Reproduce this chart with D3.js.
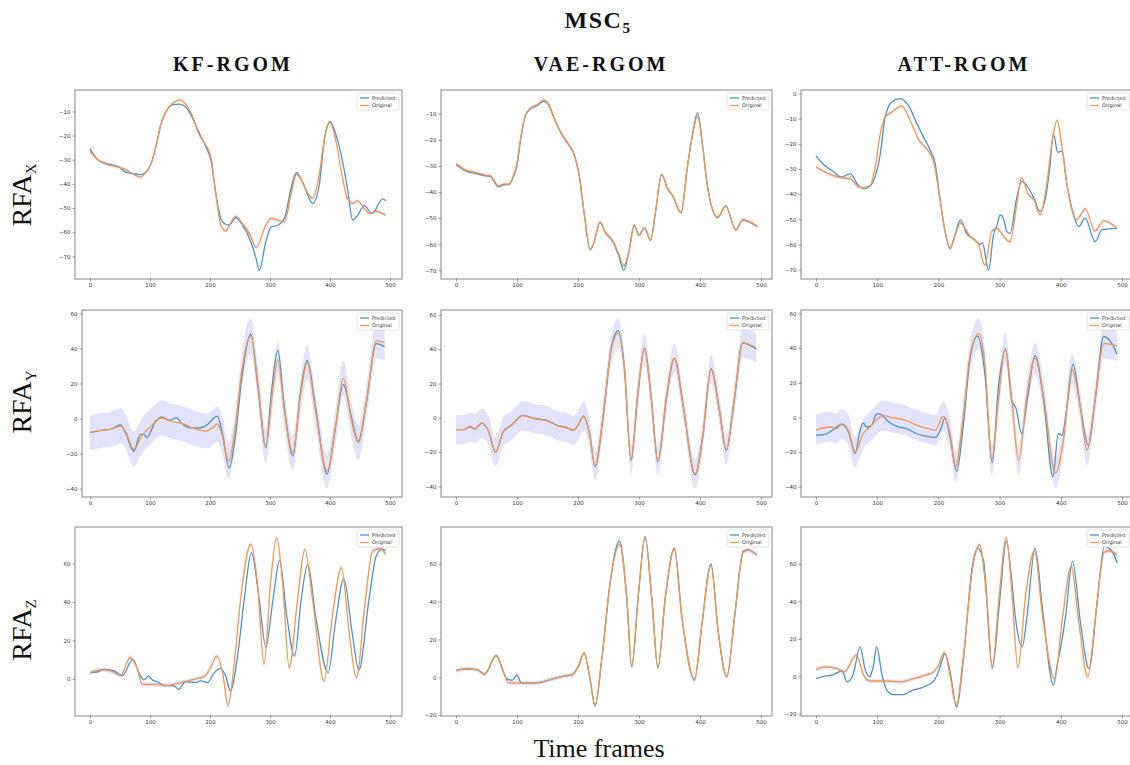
<!DOCTYPE html>
<head>
<meta charset="utf-8">
<title>MSC5 - RFA predictions</title>
<style>
  body { margin: 0; background: #fff; }
  svg { display: block; }
  .tick text { font: 5.5px "DejaVu Sans", sans-serif; fill: #333; }
  .tick line { stroke: #555; stroke-width: 0.6; }
  .domain { display: none; }
  .frame { fill: none; stroke: #a3a3a3; stroke-width: 1.3; }
  .pred { fill: none; stroke: #4b91cc; stroke-width: 1.3; }
  .orig { fill: none; stroke: #f6964a; stroke-width: 1.3; }
  .band { fill: #e2e2fb; }
  .legend text { font: 5px "DejaVu Sans", sans-serif; fill: #333; }
  .serif { font-family: "Liberation Serif", "DejaVu Serif", serif; fill: #111; }
</style>
</head>
<body>
<script src="https://d3js.org/d3.v7.min.js"></script>
<script>

var methods = ["KF-RGOM", "VAE-RGOM", "ATT-RGOM"];
var axesNames = ["X", "Y", "Z"];
var xTicks = [0, 100, 200, 300, 400, 500];
var yTickStep = [10, 20, 20];
// half width of the shaded band round the original signal, per row / method
var bandHalf = [[0.6, 0.6, 0.6], [10, 8.5, 8.7], [1.1, 1.1, 1.1]];

var kfX_pred = [[0,-25.5],[13,-30],[27,-31.5],[49,-33.1],[60,-35.2],[77,-35.9],[85,-36.2],[93,-35.2],[102,-31.5],[110,-24.5],[118,-15.5],[127,-10],[138,-7.2],[149,-7],[160,-8.3],[171,-12.8],[182,-19],[193,-24.5],[202,-30.8],[210,-44.6],[218,-54.3],[224,-56.4],[232,-57.1],[243,-54],[254,-57],[266,-62.7],[277,-71],[282,-75.8],[293,-64],[302,-57.8],[313,-57.1],[324,-54.3],[335,-41.9],[344,-35.2],[354,-39.1],[363,-44.6],[371,-48.1],[382,-40.5],[391,-21],[400,-14.2],[410,-19.7],[421,-30.8],[429,-41.9],[438,-55],[446,-53],[457,-49],[470,-52.2],[488,-46.2],[493,-47]];
var kfX_orig = [[0,-26.6],[13,-30],[27,-31.8],[49,-33.1],[60,-34.2],[77,-36.6],[83,-37.2],[93,-35.2],[102,-31.5],[110,-24.5],[118,-15.5],[127,-10],[138,-6.5],[150,-5.3],[160,-7.2],[171,-12.1],[182,-19.7],[193,-23.9],[202,-29.4],[210,-44.6],[218,-57.1],[226,-59.5],[232,-57.1],[243,-53.4],[254,-56.4],[266,-60.6],[277,-66.3],[293,-57.1],[302,-54.3],[313,-55],[324,-55.7],[335,-44.6],[344,-36],[354,-39.1],[363,-43.9],[371,-46],[382,-36.3],[391,-21],[400,-14.4],[410,-22.5],[421,-37.7],[429,-46],[438,-48.1],[446,-47],[457,-50.2],[466,-52.3],[477,-51.3],[488,-52.3],[493,-53]];

var vaeX_pred = [[0,-29.5],[15,-31.8],[32,-32.8],[48,-33.8],[56,-33.9],[62,-35.8],[70,-38],[78,-37.2],[87,-37.1],[92,-35.3],[100,-29.8],[106,-20],[114,-10.6],[122,-8.2],[133,-6.9],[144,-5.3],[152,-6.7],[163,-13],[174,-18.2],[185,-22],[193,-25.3],[202,-33.8],[210,-48],[220,-62],[226,-59.5],[236,-51.6],[245,-55.6],[256,-58.6],[267,-64.5],[275,-70],[284,-62.3],[292,-52.7],[300,-56.6],[309,-53.6],[319,-58.5],[327,-47.8],[337,-33.3],[347,-38.8],[355,-41.4],[369,-48],[379,-30.8],[388,-17.5],[396,-9.6],[404,-21.6],[412,-37.5],[429,-49.8],[442,-45.3],[459,-54.6],[470,-50.7],[494,-53.3]];
var vaeX_orig = [[0,-29.2],[15,-31.5],[32,-32.5],[48,-33.5],[56,-33.7],[62,-35.4],[70,-37.7],[78,-37],[87,-37],[92,-34.8],[100,-29],[106,-19.3],[114,-10.3],[122,-8],[133,-6.6],[144,-4.8],[152,-6.4],[163,-12.8],[174,-18],[185,-21.9],[193,-25.1],[202,-33.5],[210,-47.7],[220,-62],[226,-59.3],[236,-51.5],[245,-55.4],[256,-58.3],[267,-63.8],[275,-68.3],[284,-61.9],[292,-52.6],[300,-56.5],[309,-53.5],[319,-58.3],[327,-47.7],[337,-33.2],[347,-38.6],[355,-41.2],[369,-47.9],[379,-30.9],[388,-18],[396,-10.9],[404,-21.9],[412,-37.4],[429,-49.6],[442,-45.4],[459,-54.4],[470,-50.6],[494,-53.1]];

var attX_pred = [[0,-24.8],[12,-28.1],[28,-31],[42,-33.2],[56,-31.8],[68,-36.1],[77,-37.8],[88,-36.8],[97,-32.8],[105,-24.1],[113,-9.4],[124,-3.3],[137,-2],[151,-4.7],[165,-12],[176,-17.4],[186,-22.1],[195,-28.1],[203,-42.8],[211,-54.9],[219,-61.6],[227,-56.2],[236,-50.2],[246,-55.6],[260,-58.2],[267,-60],[272,-59.4],[282,-70.3],[290,-56.2],[296,-52.2],[301,-48.2],[306,-49.5],[312,-54.9],[317,-55.6],[328,-41.5],[336,-34.8],[345,-36.8],[356,-41.5],[366,-46.9],[375,-41.5],[382,-29.5],[388,-16],[395,-23.4],[402,-22.8],[410,-36.1],[421,-48.2],[429,-52.9],[440,-49.5],[456,-58.9],[467,-54.2],[480,-53.8],[492,-53.5]];
var attX_orig = [[0,-29.2],[17,-31.5],[42,-33.5],[56,-33.9],[68,-36.8],[77,-37.5],[88,-36.8],[97,-28.8],[105,-16.1],[113,-9.4],[124,-7.4],[140,-5],[154,-10.7],[167,-18.1],[181,-22.1],[192,-26.8],[203,-42.8],[211,-54.9],[219,-61.6],[227,-56.6],[236,-51.5],[252,-56.9],[265,-59.6],[276,-68.3],[287,-54.9],[296,-53.5],[301,-54.9],[317,-58.9],[328,-44.2],[336,-33.5],[347,-40.2],[356,-42.2],[366,-48.2],[377,-36.1],[386,-18.7],[394,-10.7],[402,-21.4],[410,-36.1],[426,-50.2],[440,-45.8],[456,-54.6],[470,-50.6],[492,-53.5]];

var kfY_pred = [[0,-8.1],[18,-6.8],[34,-6.2],[51,-3.7],[59,-8],[73,-18.7],[84,-9],[89,-9],[95,-10.7],[108,-2.5],[119,1],[133,-1.1],[144,0.5],[152,-2.5],[168,-5.3],[182,-5.3],[196,-3.4],[204,-0.5],[212,1.4],[220,-7.2],[232,-28.2],[242,-11],[253,23.4],[268,48.2],[280,17.6],[293,-16.8],[302,13.7],[313,39],[324,6.2],[338,-21.5],[351,15.6],[362,33.3],[376,6.2],[395,-31.7],[409,-5.3],[422,19.5],[436,0.5],[447,-13],[461,10],[477,42.8],[491,41.1]];
var kfY_orig = [[0,-8.1],[18,-6.8],[34,-6.2],[51,-4.3],[59,-7.2],[73,-17.7],[86,-10],[100,-4.9],[119,0.3],[138,-1.8],[155,-3],[171,-5.3],[193,-7.2],[204,-5.3],[212,-3],[220,-9.1],[231,-24.4],[242,-5.3],[253,27.2],[268,47.2],[280,19.5],[293,-15.8],[305,17.6],[313,33.8],[324,4.3],[338,-19.6],[351,13.7],[362,31.9],[376,4.3],[395,-30],[409,-5.3],[422,23],[436,-1.4],[447,-13.9],[461,10],[477,44.4],[491,43.4]];

var vaeY_pred = [[0,-6.9],[12,-6.9],[23,-5.2],[31,-6.5],[42,-3.1],[53,-7.5],[65,-20],[77,-8.5],[91,-4.2],[110,1.4],[129,-0.4],[148,-1.3],[165,-4.2],[184,-6],[192,-7.3],[200,-4.4],[209,1],[219,-9.5],[228,-28.4],[241,0],[255,41.5],[266,50.8],[276,29.5],[287,-24.8],[298,13.5],[309,40.6],[320,11.6],[331,-25.6],[345,11.7],[358,34.8],[372,8],[392,-33.2],[405,-9.4],[418,28.5],[432,4],[443,-19],[456,9.8],[470,43.5],[492,40.2]];
var vaeY_orig = [[0,-6.9],[12,-6.9],[23,-5.4],[31,-6.3],[42,-3.1],[53,-7.3],[65,-19.8],[77,-8.3],[91,-4.4],[110,1.3],[129,-0.6],[148,-1.5],[165,-4.4],[184,-6],[192,-7.3],[200,-4.4],[209,0.8],[219,-9.2],[228,-27.9],[241,0.4],[255,40.8],[266,49.4],[276,29.2],[287,-24.2],[298,13.8],[309,40.4],[320,11.9],[331,-25.2],[345,11.9],[358,34.6],[372,8.1],[392,-32.7],[405,-9.2],[418,28.3],[432,4.2],[443,-18.8],[456,10],[470,43.7],[492,40.8]];

var attY_pred = [[0,-10.3],[15,-9.8],[28,-7.1],[42,-4],[53,-8.4],[64,-20.8],[72,-7.5],[77,-3.3],[83,-5.5],[91,-4.6],[99,2.1],[107,1.7],[116,-1.7],[132,-5.2],[148,-6.5],[165,-9.4],[181,-10.9],[195,-11.5],[203,-7.5],[211,-0.2],[219,-11.3],[230,-31],[241,-3.6],[252,34.6],[264,47],[276,25],[288,-26.2],[298,17.4],[310,38.8],[320,9.8],[327,5],[336,-9.4],[345,9.8],[358,35.6],[372,9.8],[387,-34.2],[396,-9.4],[402,-10.3],[410,5.9],[420,30.8],[432,5.9],[445,-16],[456,9.8],[470,46.7],[484,42.3],[492,36.5]];
var attY_orig = [[0,-7.1],[23,-5.5],[34,-6.5],[42,-3.6],[53,-7.5],[64,-19.9],[77,-9.4],[88,-5.5],[110,1.1],[126,-0.2],[143,-1.3],[165,-4.6],[184,-6.5],[195,-7.5],[208,0.6],[219,-9.4],[228,-28.5],[241,2.1],[252,36.5],[266,48.4],[276,30.8],[287,-24.7],[298,9.8],[309,40],[320,9.8],[331,-24.7],[345,13.6],[358,34.2],[372,11.7],[391,-32.3],[405,-11.3],[418,27.9],[432,5.9],[443,-18.9],[456,9.8],[470,42.8],[492,41.3]];

var kfZ_pred = [[0,3.3],[12,3.6],[23,5],[40,4.2],[54,1.6],[71,10.2],[84,1.6],[90,-0.5],[97,1.6],[104,-0.5],[112,-1.4],[123,-3.3],[140,-3.6],[148,-5.4],[159,-1.4],[176,-1.9],[184,-1],[196,-1.9],[207,3.3],[218,5.4],[226,1.6],[234,-6.2],[246,11.9],[257,41.3],[269,65.6],[282,41.3],[293,16.6],[305,41.3],[316,61.8],[328,32.7],[341,11.9],[352,41.3],[363,59.5],[376,32.7],[397,3.3],[409,29.2],[423,52.1],[437,24],[448,4.5],[465,41.3],[477,63.8],[487,67.3],[493,67]];
var kfZ_orig = [[0,3.3],[18,4.7],[34,4.2],[51,1.9],[67,11.1],[79,5],[87,-2.8],[107,-2.8],[129,-3.3],[151,-1.9],[173,-0.2],[190,1.2],[201,5.9],[211,11.9],[221,3.3],[230,-13.7],[240,6.7],[251,41.3],[268,69.9],[279,50],[290,7.5],[301,50],[311,73.4],[321,50],[332,5.9],[346,41.3],[358,67.3],[371,41.3],[390,-1],[404,32.7],[419,57.8],[432,24],[444,0.7],[459,41.3],[471,66.4],[484,67.8],[493,64.7]];

var vaeZ_pred = [[0,3.5],[15,4.4],[34,4],[47,1.7],[66,11.5],[78,2.6],[84,-1],[92,-1.5],[100,1.2],[107,-3.1],[135,-2.8],[157,-1],[179,0.8],[190,1.2],[201,6.1],[210,12.9],[219,0.6],[228,-15.2],[239,9.5],[253,50.8],[268,71.9],[280,41.5],[288,5.5],[299,43.7],[310,74.2],[321,41.5],[331,5],[343,41.7],[358,68.2],[370,32.6],[391,-1.6],[403,27.5],[418,59.8],[430,23.7],[444,0.2],[457,32.8],[471,66.6],[479,67.3],[493,64.6]];
var vaeZ_orig = [[0,3.5],[15,4.4],[34,4],[47,1.7],[66,11.5],[78,2.6],[86,-2.8],[108,-3.1],[135,-2.8],[157,-1],[179,0.8],[190,1.2],[201,6.1],[210,12.7],[219,0.8],[228,-14.8],[239,9.7],[253,50.6],[268,70.1],[280,41.7],[288,5.8],[299,43.5],[310,73.7],[321,41.7],[331,5.2],[343,41.7],[358,67.5],[370,32.8],[391,-1],[403,27.5],[418,59.1],[430,23.9],[444,0.4],[457,32.8],[471,66.2],[479,67.1],[493,64.4]];

var attZ_pred = [[0,-1.25],[17,0.2],[28,0.9],[37,2.3],[42,3.2],[51,-3],[61,1.4],[72,15.7],[80,4.1],[87,-0.4],[94,5.9],[99,15.7],[108,0.5],[116,-7.5],[127,-9.8],[143,-9.8],[154,-8],[176,-5.7],[192,-2.7],[200,2.3],[211,12.1],[219,2.3],[230,-16.4],[241,9.5],[255,57.7],[264,68.4],[274,61.3],[288,4.1],[300,39.8],[311,72],[320,50.5],[326,30.9],[337,15.7],[345,32.7],[358,68.4],[370,36.3],[388,-4.8],[394,5.9],[400,15.7],[408,32.7],[419,61.3],[432,29.1],[446,4.1],[460,41.6],[471,69.3],[484,66.6],[492,60.4]];
var attZ_orig = [[0,3.75],[17,5],[34,4.1],[46,2.3],[66,11.3],[78,0.5],[88,-2.5],[116,-2.5],[138,-3],[159,-1.3],[181,0.9],[192,2.3],[200,5.9],[210,12.7],[219,0.5],[229,-15.5],[241,11.3],[255,55.9],[267,70.2],[279,41.6],[288,5],[299,41.6],[311,74],[320,45.2],[330,4.5],[342,41.6],[357,67],[370,32.7],[390,-1.3],[402,29.1],[417,58.6],[430,27.3],[444,-0.4],[457,32.7],[471,66.3],[479,67],[492,64.8]];

// rows = coordinate, columns = method
var predicted = [[kfX_pred, vaeX_pred, attX_pred], [kfY_pred, vaeY_pred, attY_pred], [kfZ_pred, vaeZ_pred, attZ_pred]];
var original  = [[kfX_orig, vaeX_orig, attX_orig], [kfY_orig, vaeY_orig, attY_orig], [kfZ_orig, vaeZ_orig, attZ_orig]];

// ---- layout (pixels) ----
var W = 1130, H = 765;
var colEdges = [[75, 402], [441, 772], [801, 1132]];
var rowEdges = [[90, 279], [310, 497], [527, 716]];
var colTickPx = [[90, 390], [456, 761], [816, 1122]];   // pixel of frame 0 and frame 500

var svg = d3.select("body").append("svg")
    .attr("width", W)
    .attr("height", H);

function drawPanel(r, c) {
  var left = colEdges[c][0], right = colEdges[c][1];
  if (r === 1 && c === 0) left = 82;
  var top = rowEdges[r][0], bottom = rowEdges[r][1];
  var pred = predicted[r][c], orig = original[r][c], hw = bandHalf[r][c];

  var x = d3.scaleLinear().domain([0, 500]).range(colTickPx[c]);

  var vals = pred.map(function(d) { return d[1]; })
    .concat(orig.map(function(d) { return d[1] + hw; }))
    .concat(orig.map(function(d) { return d[1] - hw; }));
  var lo = d3.min(vals), hi = d3.max(vals), pad = (hi - lo) * 0.05;
  var y = d3.scaleLinear().domain([lo - pad, hi + pad]).range([bottom, top]);

  var g = svg.append("g");

  var curve = d3.curveMonotoneX;
  var area = d3.area()
      .curve(curve)
      .x(function(d) { return x(d[0]); })
      .y0(function(d) { return y(d[1] - hw); })
      .y1(function(d) { return y(d[1] + hw); });
  var line = d3.line()
      .curve(curve)
      .x(function(d) { return x(d[0]); })
      .y(function(d) { return y(d[1]); });

  g.append("path").attr("class", "band").attr("d", area(orig));
  g.append("path").attr("class", "pred").attr("d", line(pred));
  g.append("path").attr("class", "orig").attr("d", line(orig));

  g.append("rect").attr("class", "frame")
      .attr("x", left).attr("y", top)
      .attr("width", right - left).attr("height", bottom - top);

  var step = yTickStep[r];
  var yt = d3.range(Math.ceil((lo - pad) / step) * step, hi + pad, step);

  g.append("g")
      .attr("transform", "translate(" + left + ",0)")
      .call(d3.axisLeft(y).tickValues(yt).tickSize(2.5).tickPadding(2).tickFormat(d3.format("d")));
  g.append("g")
      .attr("transform", "translate(0," + bottom + ")")
      .call(d3.axisBottom(x).tickValues(xTicks).tickSize(2.5).tickPadding(2));

  // legend
  var lg = g.append("g").attr("class", "legend")
      .attr("transform", "translate(" + (right - 45) + "," + (top + 3) + ")");
  lg.append("rect").attr("width", 42).attr("height", 17).attr("rx", 1.5)
      .attr("fill", "#fff").attr("stroke", "#d0d0d0").attr("stroke-width", 0.6);
  [["Predicted", "pred"], ["Original", "orig"]].forEach(function(e, i) {
    var yy = 5 + i * 7.5;
    lg.append("line").attr("class", e[1]).attr("x1", 3).attr("x2", 12).attr("y1", yy).attr("y2", yy);
    lg.append("text").attr("x", 15).attr("y", yy + 1.8).text(e[0]);
  });
}

for (var r = 0; r < 3; r++)
  for (var c = 0; c < 3; c++) drawPanel(r, c);

// ---- titles ----
var title = svg.append("text").attr("class", "serif")
    .attr("x", 598).attr("y", 28)
    .attr("text-anchor", "middle")
    .style("font-size", "24px").style("font-weight", "bold")
    .style("letter-spacing", "1.5px");
title.append("tspan").text("MSC");
title.append("tspan").attr("dy", 5).style("font-size", "15px").text("5");

var colCenters = [233, 601, 964];
methods.forEach(function(m, i) {
  svg.append("text").attr("class", "serif")
      .attr("x", colCenters[i]).attr("y", 70.5)
      .attr("text-anchor", "middle")
      .style("font-size", "20px").style("font-weight", "bold")
      .style("letter-spacing", "3px")
      .text(m);
});

var rowCenters = [195, 402, 630];
axesNames.forEach(function(a, i) {
  var t = svg.append("text").attr("class", "serif")
      .attr("transform", "translate(31," + rowCenters[i] + ") rotate(-90)")
      .attr("text-anchor", "middle")
      .style("font-size", "28px");
  t.append("tspan").text("RFA");
  t.append("tspan").attr("dy", 5).style("font-size", "15px").text(a);
});

svg.append("text").attr("class", "serif")
    .attr("x", 599).attr("y", 757)
    .attr("text-anchor", "middle")
    .style("font-size", "26px")
    .text("Time frames");

</script>
</body>
